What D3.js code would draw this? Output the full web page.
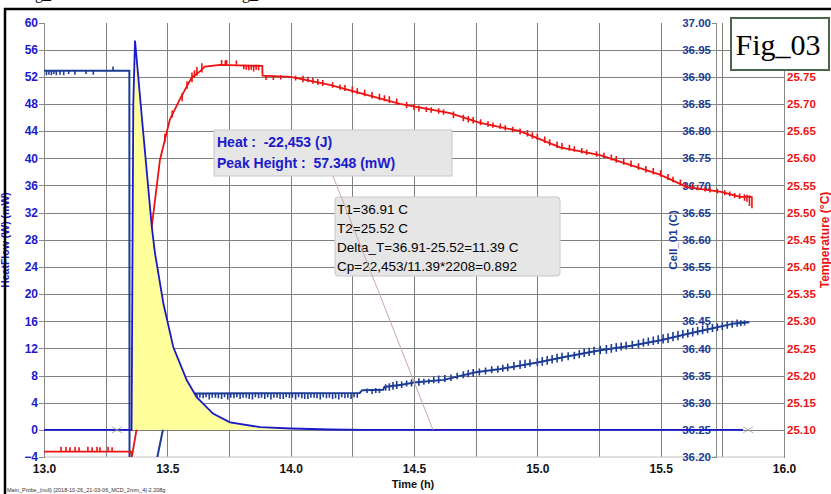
<!DOCTYPE html>
<html>
<head>
<meta charset="utf-8">
<script src="https://cdn.jsdelivr.net/npm/d3@7/dist/d3.min.js"></script>
<style>
  body { margin: 0; background: #fff; }
  svg { display: block; font-family: "Liberation Sans", Arial, sans-serif; }
  .grid line { stroke: #808080; stroke-width: 1; shape-rendering: crispEdges; }
  .axis path, .axis line { stroke: #888; shape-rendering: crispEdges; }
  .axis text { font-weight: bold; font-size: 12px; }
</style>
</head>
<body>
<div id="chart"></div>
<script>
// ---- data ----
const timeTicks = [13.0, 13.5, 14.0, 14.5, 15.0, 15.5, 16.0];
const timeGrid = [13.25, 13.5, 13.75, 14.0, 14.25, 14.5, 14.75, 15.0, 15.25, 15.5, 15.75];
const heatTicks = [-4, 0, 4, 8, 12, 16, 20, 24, 28, 32, 36, 40, 44, 48, 52, 56, 60];
const cellTicks = [36.20, 36.25, 36.30, 36.35, 36.40, 36.45, 36.50, 36.55, 36.60, 36.65, 36.70, 36.75, 36.80, 36.85, 36.90, 36.95, 37.00];
// 25.80 sits under the Fig_03 box in the picture
const tempTicks = [25.10, 25.15, 25.20, 25.25, 25.30, 25.35, 25.40, 25.45, 25.50, 25.55, 25.60, 25.65, 25.70, 25.75];

// HeatFlow (mW) vs time (h)
const heatFlow = [
  [13.0, 0], [13.355, 0], [13.358, 20], [13.362, 48], [13.369, 57.348], [13.40, 44.7],
  [13.437, 29.9], [13.45, 26], [13.484, 18.6], [13.524, 12.2], [13.579, 7.3], [13.619, 4.8],
  [13.685, 2.4], [13.754, 1.1], [13.876, 0.4], [14.0, 0.2], [14.16, 0.05], [14.3, 0], [15.834, 0]
];
const integLimits = [13.296, 15.855];

// Cell_01 (C)
const cell = [
  [13.0, 36.911], [13.346, 36.911], [13.347, 35.90], [13.44, 35.90], [13.455, 36.19],
  [13.482, 36.25], [13.52, 36.285], [13.56, 36.305], [13.604, 36.317], [14.28, 36.318],
  [14.29, 36.323], [14.375, 36.324], [14.38, 36.329], [14.45, 36.333], [14.50, 36.337],
  [14.62, 36.342], [14.75, 36.356], [14.85, 36.362], [15.0, 36.374], [15.12, 36.385],
  [15.25, 36.396], [15.38, 36.405], [15.5, 36.415], [15.62, 36.428], [15.72, 36.438],
  [15.80, 36.446], [15.86, 36.448]
];
// noise spikes: [time, low, high]
const cellSpikes = [
  [13.01, 36.903, 36.911], [13.02, 36.904, 36.911], [13.03, 36.903, 36.911], [13.04, 36.905, 36.911],
  [13.05, 36.903, 36.911], [13.065, 36.904, 36.911], [13.08, 36.903, 36.911], [13.10, 36.905, 36.911],
  [13.125, 36.904, 36.911], [13.17, 36.905, 36.911], [13.20, 36.904, 36.911], [13.28, 36.911, 36.919],
  [13.62, 36.307, 36.318], [13.632, 36.309, 36.318], [13.645, 36.308, 36.318], [13.657, 36.310, 36.318],
  [13.67, 36.306, 36.318], [13.682, 36.309, 36.318], [13.695, 36.309, 36.318], [13.707, 36.308, 36.318],
  [13.72, 36.307, 36.318], [13.732, 36.310, 36.318], [13.745, 36.306, 36.318], [13.757, 36.309, 36.318],
  [13.77, 36.308, 36.318], [13.782, 36.310, 36.318], [13.795, 36.307, 36.318], [13.807, 36.309, 36.318],
  [13.82, 36.309, 36.318], [13.832, 36.307, 36.318], [13.845, 36.306, 36.318], [13.857, 36.310, 36.318],
  [13.87, 36.308, 36.318], [13.882, 36.309, 36.318], [13.895, 36.307, 36.318], [13.907, 36.310, 36.318],
  [13.92, 36.306, 36.318], [13.932, 36.309, 36.318], [13.945, 36.309, 36.318], [13.957, 36.307, 36.318],
  [13.97, 36.307, 36.318], [13.982, 36.310, 36.318], [13.995, 36.308, 36.318], [14.007, 36.309, 36.318],
  [14.02, 36.306, 36.318], [14.032, 36.310, 36.318], [14.045, 36.308, 36.318], [14.057, 36.307, 36.318],
  [14.07, 36.307, 36.318], [14.082, 36.309, 36.318], [14.095, 36.309, 36.318], [14.107, 36.308, 36.318],
  [14.12, 36.306, 36.318], [14.132, 36.310, 36.318], [14.145, 36.308, 36.318], [14.157, 36.309, 36.318],
  [14.17, 36.307, 36.318], [14.182, 36.308, 36.318], [14.195, 36.306, 36.318], [14.207, 36.310, 36.318],
  [14.22, 36.308, 36.318], [14.232, 36.309, 36.318], [14.245, 36.307, 36.318], [14.257, 36.310, 36.318],
  [14.27, 36.309, 36.318],
  [14.31, 36.318, 36.326], [14.33, 36.316, 36.324], [14.345, 36.318, 36.327], [14.36, 36.318, 36.326],
  [14.385, 36.322, 36.334], [14.40, 36.322, 36.336], [14.415, 36.324, 36.338], [14.43, 36.325, 36.340],
  [14.45, 36.327, 36.339], [14.47, 36.330, 36.341], [14.49, 36.330, 36.343], [14.52, 36.331, 36.345],
  [14.54, 36.333, 36.344], [14.56, 36.335, 36.344], [14.58, 36.336, 36.348], [14.60, 36.336, 36.350],
  [14.625, 36.338, 36.351], [14.65, 36.340, 36.352], [14.675, 36.343, 36.355], [14.70, 36.345, 36.358],
  [14.72, 36.347, 36.360], [14.74, 36.348, 36.362], [14.765, 36.350, 36.363], [14.79, 36.352, 36.365],
  [14.815, 36.354, 36.367], [14.84, 36.355, 36.368], [14.86, 36.357, 36.370], [14.88, 36.358, 36.372],
  [14.905, 36.360, 36.375], [14.93, 36.362, 36.378], [14.95, 36.364, 36.379], [14.97, 36.366, 36.380],
  [15.0, 36.367, 36.382], [15.02, 36.368, 36.384], [15.04, 36.370, 36.386], [15.06, 36.372, 36.388],
  [15.08, 36.374, 36.390], [15.10, 36.376, 36.392], [15.125, 36.378, 36.393], [15.15, 36.380, 36.394],
  [15.17, 36.382, 36.397], [15.19, 36.384, 36.400], [15.21, 36.386, 36.401], [15.23, 36.388, 36.403],
  [15.255, 36.389, 36.405], [15.28, 36.390, 36.406], [15.30, 36.392, 36.408], [15.32, 36.394, 36.410],
  [15.34, 36.396, 36.411], [15.36, 36.398, 36.412], [15.385, 36.399, 36.414], [15.41, 36.400, 36.416],
  [15.43, 36.403, 36.418], [15.45, 36.405, 36.420], [15.47, 36.406, 36.422], [15.49, 36.408, 36.424],
  [15.51, 36.409, 36.426], [15.53, 36.410, 36.428], [15.55, 36.413, 36.430], [15.57, 36.415, 36.432],
  [15.59, 36.418, 36.434], [15.61, 36.420, 36.435], [15.63, 36.422, 36.438], [15.65, 36.424, 36.440],
  [15.67, 36.426, 36.442], [15.69, 36.428, 36.444], [15.71, 36.430, 36.445], [15.73, 36.432, 36.446],
  [15.75, 36.434, 36.448], [15.77, 36.436, 36.450], [15.79, 36.438, 36.451], [15.81, 36.440, 36.453],
  [15.825, 36.441, 36.452], [15.84, 36.442, 36.452]
];

// Temperature (°C)
const temp = [
  [13.0, 25.06], [13.354, 25.06], [13.356, 25.05], [13.375, 25.10], [13.41, 25.33],
  [13.437, 25.474], [13.47, 25.597], [13.51, 25.671], [13.55, 25.708], [13.598, 25.748],
  [13.632, 25.76], [13.652, 25.769], [13.714, 25.772], [13.885, 25.770], [13.886, 25.752],
  [14.0, 25.75], [14.159, 25.735], [14.443, 25.70], [14.646, 25.683], [14.768, 25.665],
  [14.93, 25.65], [15.092, 25.62], [15.254, 25.606], [15.416, 25.582], [15.497, 25.57],
  [15.607, 25.547], [15.745, 25.538], [15.822, 25.529], [15.87, 25.529]
];
const tempSpikes = [
  [13.069, 25.06, 25.069], [13.089, 25.06, 25.069], [13.105, 25.06, 25.068], [13.126, 25.06, 25.069],
  [13.142, 25.06, 25.068], [13.178, 25.06, 25.069], [13.195, 25.06, 25.068], [13.215, 25.06, 25.069],
  [13.227, 25.06, 25.068], [13.26, 25.06, 25.069], [13.276, 25.06, 25.068],
  [13.49, 25.63, 25.645], [13.52, 25.675, 25.688], [13.56, 25.705, 25.72], [13.58, 25.728, 25.742],
  [13.60, 25.74, 25.758], [13.61, 25.748, 25.762], [13.62, 25.752, 25.768], [13.64, 25.758, 25.775],
  [13.72, 25.772, 25.781], [13.735, 25.772, 25.780], [13.74, 25.772, 25.781], [13.78, 25.772, 25.78],
  [13.81, 25.764, 25.772], [13.82, 25.763, 25.772], [13.83, 25.762, 25.772], [13.84, 25.763, 25.772],
  [13.85, 25.760, 25.772], [13.86, 25.763, 25.772], [13.87, 25.762, 25.772],
  [13.90, 25.744, 25.752], [13.93, 25.744, 25.75], [13.96, 25.745, 25.753], [14.02, 25.743, 25.752],
  [14.05, 25.740, 25.752], [14.07, 25.740, 25.750], [14.09, 25.737, 25.748], [14.11, 25.735, 25.746],
  [14.13, 25.733, 25.744], [14.17, 25.730, 25.740], [14.20, 25.726, 25.736], [14.22, 25.724, 25.735],
  [14.25, 25.720, 25.732], [14.27, 25.718, 25.729], [14.30, 25.714, 25.726], [14.33, 25.710, 25.722],
  [14.36, 25.707, 25.719], [14.38, 25.705, 25.716], [14.40, 25.702, 25.714], [14.43, 25.698, 25.710],
  [14.47, 25.692, 25.704], [14.50, 25.689, 25.700], [14.52, 25.686, 25.697], [14.55, 25.685, 25.695],
  [14.57, 25.684, 25.694], [14.60, 25.682, 25.692], [14.62, 25.680, 25.690], [14.66, 25.674, 25.686],
  [14.70, 25.668, 25.680], [14.72, 25.666, 25.678], [14.74, 25.664, 25.676], [14.77, 25.661, 25.672],
  [14.80, 25.658, 25.668], [14.82, 25.656, 25.666], [14.85, 25.654, 25.664], [14.87, 25.651, 25.661],
  [14.90, 25.648, 25.658], [14.93, 25.644, 25.655], [14.96, 25.640, 25.652], [14.98, 25.636, 25.648],
  [15.00, 25.633, 25.645], [15.03, 25.628, 25.640], [15.05, 25.623, 25.635], [15.08, 25.619, 25.631],
  [15.10, 25.616, 25.628], [15.13, 25.614, 25.625], [15.15, 25.612, 25.622], [15.18, 25.609, 25.619],
  [15.20, 25.606, 25.616], [15.24, 25.603, 25.613], [15.27, 25.600, 25.610], [15.30, 25.596, 25.607],
  [15.32, 25.592, 25.604], [15.35, 25.588, 25.600], [15.38, 25.584, 25.596], [15.41, 25.579, 25.591],
  [15.44, 25.574, 25.586], [15.47, 25.570, 25.582], [15.50, 25.566, 25.578], [15.53, 25.560, 25.571],
  [15.55, 25.556, 25.566], [15.58, 25.550, 25.561], [15.60, 25.545, 25.556], [15.63, 25.543, 25.553],
  [15.65, 25.541, 25.551], [15.68, 25.539, 25.548], [15.70, 25.537, 25.546], [15.73, 25.535, 25.544],
  [15.76, 25.532, 25.541], [15.78, 25.530, 25.539], [15.80, 25.527, 25.536], [15.82, 25.525, 25.535],
  [15.84, 25.522, 25.534], [15.85, 25.520, 25.533], [15.86, 25.512, 25.532], [15.87, 25.508, 25.53]
];

const heatLines = ["Heat :  -22,453 (J)", "Peak Height :  57.348 (mW)"];
const cpLines = ["T1=36.91 C", "T2=25.52 C", "Delta_T=36.91-25.52=11.39 C", "Cp=22,453/11.39*2208=0.892"];
const calloutPoint = [14.577, 0];

// ---- layout ----
const W = 831, H = 494;
const mLeft = 44, mRight = 784, mTop = 22.5, mBottom = 457;
const cellAxisX = 716;
const blue = "#1a1acc", darkBlue = "#1c3c96", red = "#ee1111";

const svg = d3.select("#chart").append("svg")
  .attr("width", W).attr("height", H);

svg.append("rect").attr("width", W).attr("height", H).attr("fill", "#fff");

// scales
const x = d3.scaleLinear().domain([13, 16]).range([mLeft, mRight]);
const yHeat = d3.scaleLinear().domain([-4, 60]).range([mBottom, mTop]);
const yCell = d3.scaleLinear().domain([36.20, 37.00]).range([mBottom, mTop]);
const yTemp = d3.scaleLinear().domain([25.05, 25.85]).range([mBottom, mTop]);

svg.append("defs").append("clipPath").attr("id", "plot")
  .append("rect").attr("x", mLeft).attr("y", mTop).attr("width", mRight - mLeft).attr("height", mBottom - mTop);

// grid
const grid = svg.append("g").attr("class", "grid");
grid.selectAll(".v").data(timeGrid).join("line")
  .attr("x1", d => Math.round(x(d)) + 0.5).attr("x2", d => Math.round(x(d)) + 0.5)
  .attr("y1", mTop).attr("y2", mBottom);
grid.selectAll(".h").data(heatTicks.filter(d => d > -4 && d < 60)).join("line")
  .attr("x1", mLeft).attr("x2", mRight)
  .attr("y1", d => Math.round(yHeat(d)) + 0.5).attr("y2", d => Math.round(yHeat(d)) + 0.5);
svg.append("line").attr("x1", mLeft).attr("x2", mRight).attr("y1", mBottom).attr("y2", mBottom)
  .attr("stroke", "#c0c0c0");

// axes
const heatAxis = svg.append("g").attr("class", "axis").attr("transform", `translate(${mLeft},0)`)
  .call(d3.axisLeft(yHeat).tickValues(heatTicks).tickFormat(d3.format("d")).tickSize(5).tickPadding(1).tickSizeOuter(0));
heatAxis.selectAll("text").attr("fill", blue);

const cellAxis = svg.append("g").attr("class", "axis").attr("transform", `translate(${cellAxisX},0)`)
  .call(d3.axisLeft(yCell).tickValues(cellTicks).tickFormat(d3.format(".2f")).tickSize(4).tickPadding(1).tickSizeOuter(0));
cellAxis.select(".domain").attr("stroke", "#555");
cellAxis.selectAll("text").attr("fill", darkBlue).style("font-size", "11.5px");

const tempAxis = svg.append("g").attr("class", "axis").attr("transform", `translate(${mRight},0)`)
  .call(d3.axisRight(yTemp).tickValues(tempTicks).tickFormat(d3.format(".2f")).tickSize(0).tickPadding(3).tickSizeOuter(0));
tempAxis.select(".domain").attr("stroke", "#888");
tempAxis.selectAll("text").attr("fill", red).style("font-size", "11.5px");

const timeAxis = svg.append("g").attr("class", "axis").attr("transform", `translate(0,${mBottom})`)
  .call(d3.axisBottom(x).tickValues(timeTicks).tickFormat(d3.format(".1f")).tickSize(0).tickPadding(7));
timeAxis.select(".domain").remove();
timeAxis.selectAll("text").attr("fill", "#111");

// axis titles
svg.append("text").attr("transform", "translate(9,240) rotate(-90)")
  .attr("text-anchor", "middle").attr("fill", blue)
  .style("font-size", "10.5px").style("font-weight", "bold").text("HeatFlow (W) (mW)");
svg.append("text").attr("transform", "translate(677,240) rotate(-90)")
  .attr("text-anchor", "middle").attr("fill", darkBlue)
  .style("font-size", "11.5px").style("font-weight", "bold").text("Cell_01 (C)");
svg.append("text").attr("transform", "translate(829,240) rotate(-90)")
  .attr("text-anchor", "middle").attr("fill", red)
  .style("font-size", "12px").style("font-weight", "bold").text("Temperature (°C)");
svg.append("text").attr("x", 413).attr("y", 488).attr("text-anchor", "middle")
  .attr("fill", "#111").style("font-size", "11px").style("font-weight", "bold").text("Time (h)");

// series
const plot = svg.append("g").attr("clip-path", "url(#plot)");

const spikePath = (arr, y) => arr.map(d => `M${x(d[0])},${y(d[1])}V${y(d[2])}`).join("");

plot.append("path")
  .attr("d", d3.line().x(d => x(d[0])).y(d => yCell(d[1]))(cell))
  .attr("fill", "none").attr("stroke", darkBlue).attr("stroke-width", 2);
plot.append("path").attr("d", spikePath(cellSpikes, yCell))
  .attr("fill", "none").attr("stroke", darkBlue).attr("stroke-width", 1.6);

plot.append("path")
  .attr("d", d3.line().x(d => x(d[0])).y(d => yTemp(d[1]))(temp))
  .attr("fill", "none").attr("stroke", red).attr("stroke-width", 1.8);
plot.append("path").attr("d", spikePath(tempSpikes, yTemp))
  .attr("fill", "none").attr("stroke", red).attr("stroke-width", 1.6);

// integrated area
const peak = heatFlow.filter(d => d[0] >= 13.355 && d[0] <= 14.3);
plot.append("path")
  .attr("d", d3.area().x(d => x(d[0])).y0(yHeat(0)).y1(d => yHeat(d[1]))(peak))
  .attr("fill", "#ffff9c");

plot.append("path")
  .attr("d", d3.line().x(d => x(d[0])).y(d => yHeat(d[1]))(heatFlow))
  .attr("fill", "none").attr("stroke", blue).attr("stroke-width", 1.8);

// integration limit markers
plot.selectAll(".lim").data(integLimits).join("path")
  .attr("d", d => {
    const cx = x(d), cy = yHeat(0);
    return `M${cx - 5},${cy - 3}L${cx},${cy}L${cx - 5},${cy + 3}M${cx + 5},${cy - 3}L${cx},${cy}L${cx + 5},${cy + 3}`;
  })
  .attr("fill", "none").attr("stroke", "#999").attr("stroke-width", 0.8);

// callout: heat
const hb = svg.append("g");
hb.append("rect").attr("x", 214).attr("y", 130).attr("width", 238).attr("height", 46)
  .attr("fill", "#e6e6e6").attr("stroke", "#c8c8c8");
hb.selectAll("text").data(heatLines).join("text")
  .attr("x", 217).attr("y", (d, i) => 147 + i * 21)
  .attr("fill", blue).style("font-size", "14px").style("font-weight", "bold")
  .style("white-space", "pre").text(d => d);

// callout: Cp
const cb = svg.append("g");
cb.append("rect").attr("x", 335).attr("y", 197).attr("width", 225).attr("height", 79).attr("rx", 3)
  .attr("fill", "#e6e6e6").attr("stroke", "#c8c8c8");
cb.selectAll("text").data(cpLines).join("text")
  .attr("x", 337).attr("y", (d, i) => 214 + i * 19)
  .attr("fill", "#000").style("font-size", "13.5px").text(d => d);

// leader line
svg.append("line").attr("x1", 333).attr("y1", 176)
  .attr("x2", x(calloutPoint[0])).attr("y2", yHeat(calloutPoint[1]))
  .attr("stroke", "#c9a9a9").attr("stroke-width", 1);

// Fig label
svg.append("rect").attr("x", 731).attr("y", 18).attr("width", 98).attr("height", 52)
  .attr("fill", "#fff").attr("stroke", "#4a664a").attr("stroke-width", 2);
svg.append("text").attr("x", 778).attr("y", 55).attr("text-anchor", "middle")
  .style("font-family", "'Liberation Serif', 'Times New Roman', serif").style("font-size", "30px")
  .attr("fill", "#000").text("Fig_03");

// outer frame and clipped title remnants
svg.append("path").attr("d", `M5,${H}V9H${W}`).attr("fill", "none").attr("stroke", "#000").attr("stroke-width", 2.5);
svg.selectAll(".cut").data([35, 242]).join("text")
  .attr("x", d => d).attr("y", -1)
  .style("font-family", "'Liberation Serif', serif").style("font-size", "16px").text("g_");
svg.append("text").attr("x", 7).attr("y", 492).style("font-size", "5.5px").attr("fill", "#333")
  .text("Main_Probe_(null) [2018-10-26_21-03-06_MCD_2mm_4]-2.208g");
</script>
</body>
</html>
